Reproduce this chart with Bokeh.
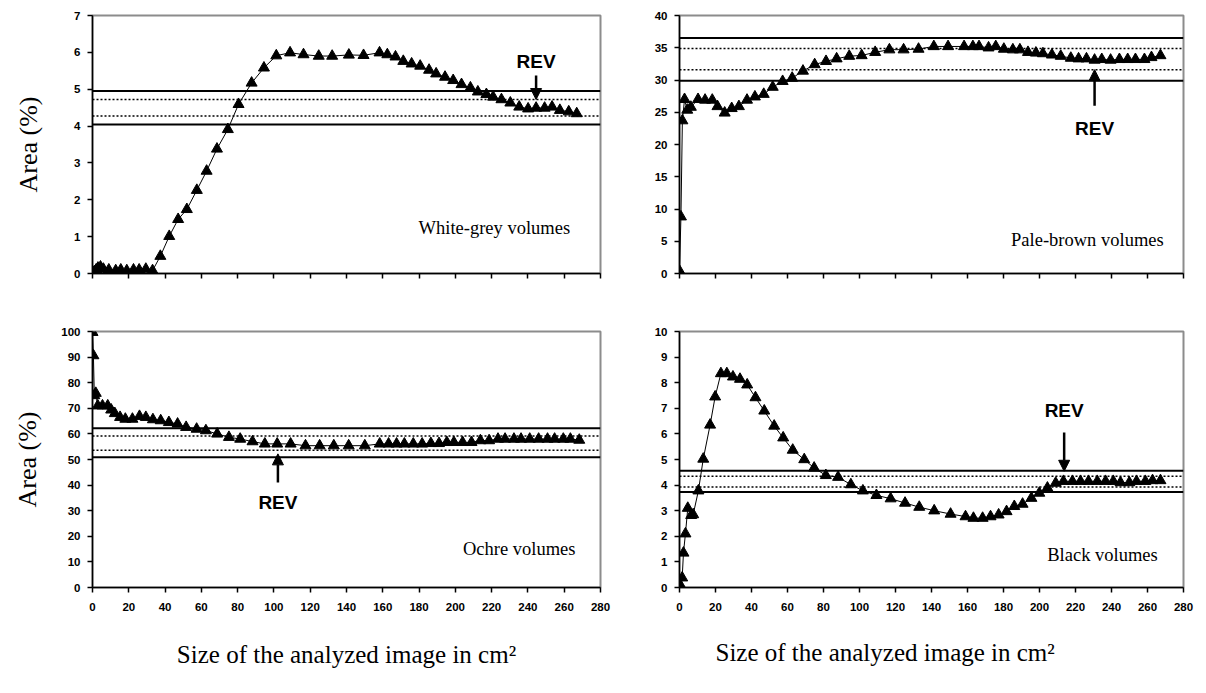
from bokeh.plotting import figure
from bokeh.layouts import column, row
from bokeh.models import Span, Arrow, NormalHead, Label, FixedTicker, Range1d, Title
from bokeh.embed import file_html
from bokeh.resources import INLINE

# ---------------- data ----------------
x_ticks = list(range(0, 281, 20))

# White-grey volumes
tl_x = [0, 0.5, 1, 2, 3, 4.4, 6, 9, 12.8, 15.6, 18.9, 22.6, 25.7, 29.4, 33.1, 37.4, 42.3, 47.2, 52.0, 57.5,
        62.9, 68.6, 74.6, 80.5, 87.7, 94.5, 101.3, 108.9, 116.3, 124.7, 132.1, 141.3, 149.4, 158.2, 162.5,
        167.0, 171.3, 175.9, 180.6, 185.5, 189.4, 194.3, 198.8, 203.4, 208.3, 212.4, 217.1, 220.8, 225.4,
        230.3, 235.2, 240.1, 244.5, 249.2, 253.3, 257.6, 262.5, 266.9]
tl_y = [0, 0.02, 0.05, 0.1, 0.15, 0.18, 0.12, 0.1, 0.08, 0.1, 0.08, 0.1, 0.1, 0.12, 0.08, 0.47, 1.01, 1.47, 1.74, 2.26,
        2.78, 3.38, 3.91, 4.59, 5.17, 5.58, 5.91, 5.99, 5.94, 5.90, 5.90, 5.93, 5.92, 5.99, 5.94,
        5.88, 5.76, 5.69, 5.63, 5.52, 5.42, 5.33, 5.24, 5.13, 5.04, 4.93, 4.86, 4.79, 4.72,
        4.63, 4.52, 4.47, 4.49, 4.49, 4.52, 4.43, 4.39, 4.34]
tl_bands = [4.04, 4.27, 4.72, 4.95]

# Pale-brown volumes
tr_x = [0, 0.8, 1.6, 2.8, 4.3, 6.3, 10.3, 14.2, 18.2, 21.1, 25.1, 29.0, 33.0, 37.5, 41.9, 46.8, 51.8, 57.3, 62.6,
        68.6, 75.1, 81.4, 87.3, 94.3, 101.2, 108.7, 116.6, 124.5, 132.8, 141.3, 149.2, 158.1, 163.0, 166.4,
        171.7, 175.7, 180.2, 185.2, 189.1, 193.6, 198.0, 201.9, 206.9, 211.8, 217.4, 221.7, 226.1, 230.6,
        234.6, 239.5, 244.4, 249.0, 253.3, 258.3, 262.2, 267.2]
tr_y = [0.4, 8.8, 23.7, 27.0, 25.35, 25.8, 27.0, 26.9, 26.9, 25.9, 24.9, 25.6, 25.9, 26.9, 27.4, 27.8, 28.9, 29.8, 30.3,
        31.4, 32.4, 32.9, 33.3, 33.7, 33.8, 34.3, 34.7, 34.7, 34.8, 35.2, 35.2, 35.2, 35.2, 35.2,
        35.0, 35.2, 34.8, 34.7, 34.7, 34.3, 34.2, 34.1, 33.9, 33.7, 33.4, 33.3, 33.3, 33.1,
        33.2, 33.1, 33.2, 33.2, 33.2, 33.2, 33.5, 33.8]
tr_bands = [29.9, 31.6, 34.9, 36.5]

# Ochre volumes
bl_x = [0, 0.5, 1.0, 1.8, 2.9, 5.5, 8.4, 10.3, 12.3, 15.2, 18.1, 22.0, 25.9, 29.4, 33.3, 37.6, 42.1, 46.9, 51.6,
        57.4, 62.5, 68.7, 75.2, 81.4, 88.2, 95.0, 101.8, 109.2, 117.4, 125.2, 133.0, 141.2, 150.1, 158.3,
        163.2, 167.6, 171.9, 176.8, 181.7, 186.5, 191.0, 195.3, 199.2, 204.0, 208.9, 213.8, 218.6, 223.5,
        227.4, 232.3, 236.2, 241.0, 245.9, 250.8, 254.7, 259.5, 263.4, 268.3]
bl_y = [99.7, 90.6, 75.0, 75.9, 71.0, 71.0, 71.0, 69.4, 68.0, 66.5, 65.8, 65.8, 66.9, 66.5, 65.6, 65.2, 64.5, 63.9, 62.6,
        61.9, 61.3, 60.0, 58.7, 58.0, 57.0, 56.1, 56.1, 56.1, 55.4, 55.4, 55.4, 55.4, 55.4, 56.1,
        56.1, 56.1, 56.1, 56.1, 56.1, 56.3, 56.3, 56.7, 56.7, 56.7, 56.7, 57.4, 57.4, 58.0,
        58.0, 58.0, 58.0, 58.0, 58.0, 58.0, 58.0, 58.0, 58.0, 57.6]
bl_bands = [50.9, 53.6, 59.2, 62.2]

# Black volumes
br_x = [0, 0.8, 1.5, 2.2, 3.3, 4.6, 6.5, 7.6, 10.5, 13.2, 17.0, 19.8, 23.0, 26.3, 29.7, 33.6, 37.6, 42.2, 47.1,
        52.6, 57.6, 62.9, 69.3, 74.8, 81.3, 88.1, 95.2, 101.9, 109.4, 117.3, 125.3, 133.2, 141.5, 150.6,
        158.9, 163.3, 168.4, 172.8, 177.3, 181.7, 186.0, 190.6, 195.5, 199.9, 204.4, 209.0, 213.3, 218.3,
        222.8, 227.2, 232.1, 236.7, 241.0, 245.0, 249.9, 253.9, 258.8, 262.8, 267.2]
br_y = [0, 0.05, 0.38, 1.35, 2.1, 3.1, 2.82, 2.85, 3.78, 5.02, 6.35, 7.45, 8.36, 8.36, 8.23, 8.14, 7.92, 7.42, 6.9,
        6.31, 5.85, 5.37, 5.0, 4.67, 4.38, 4.31, 4.02, 3.78, 3.6, 3.47, 3.3, 3.14, 3.0, 2.87,
        2.77, 2.71, 2.71, 2.77, 2.84, 2.97, 3.17, 3.26, 3.49, 3.69, 3.89, 4.08, 4.15, 4.15,
        4.15, 4.15, 4.15, 4.15, 4.15, 4.1, 4.1, 4.15, 4.15, 4.18, 4.18]
br_bands = [3.73, 3.93, 4.35, 4.56]

# annotations: (text x, text y, arrow start y, arrow end y)
tl_rev = (244.5, 5.76, 5.37, 4.72)
tr_rev = (230.6, 22.5, 26.0, 31.6)
bl_rev = (102.2, 33.2, 41.0, 52.2)
br_rev = (213.7, 6.9, 6.05, 4.54)

tl_name = ("White-grey volumes", 221.5, 1.24)
tr_name = ("Pale-brown volumes", 226.6, 5.2)
bl_name = ("Ochre volumes", 235.2, 15.0)
br_name = ("Black volumes", 235.0, 1.27)

ylabel = "Area (%)"
xlabel = "Size of the analyzed image in cm\u00b2"

SANS = "Liberation Sans"
SERIF = "Liberation Serif"


def panel(xs, ys, ymax, ystep, bands, rev, name, left, top):
    kw = dict(
        frame_width=508 if left else 504,
        frame_height=258 if top else 256,
        min_border_left=92 if left else 39,
        min_border_right=40 if left else 12,
        min_border_top=15 if top else 31,
        min_border_bottom=27 if top else 96,
    )
    p = figure(x_range=Range1d(0, 280), y_range=Range1d(0, ymax),
               output_backend="svg", toolbar_location=None, **kw)
    p.grid.visible = False
    p.outline_line_color = "#8c8c8c"
    p.outline_line_width = 2
    p.background_fill_color = "white"
    p.border_fill_color = "white"

    for ax in (p.xaxis[0], p.yaxis[0]):
        ax.axis_line_color = "black"
        ax.axis_line_width = 1.5
        ax.major_tick_line_color = "black"
        ax.major_tick_line_width = 1.5
        ax.major_tick_in = 0
        ax.major_tick_out = 5
        ax.minor_tick_line_color = None
        ax.major_label_text_font = SANS
        ax.major_label_text_font_style = "bold"
        ax.major_label_text_font_size = "11.5px"
        ax.major_label_text_color = "black"
        ax.axis_label_text_color = "black"
        ax.axis_label_text_font = SERIF
        ax.axis_label_text_font_style = "normal"

    p.xaxis[0].ticker = FixedTicker(ticks=x_ticks)
    p.yaxis[0].ticker = FixedTicker(ticks=list(range(0, ymax + 1, ystep)))
    p.yaxis[0].major_label_standoff = 7
    p.xaxis[0].major_label_standoff = 10
    if top:
        p.xaxis[0].major_label_overrides = {t: "" for t in x_ticks}

    if left:
        ya = p.yaxis[0]
        ya.axis_label = ylabel
        ya.axis_label_text_font_size = "26px"
        ya.axis_label_standoff = 28 if top else 16

    for i, b in enumerate(bands):
        solid = i in (0, 3)
        p.add_layout(Span(location=b, dimension="width", line_color="black",
                          line_width=2 if solid else 1.5,
                          line_dash="solid" if solid else "2 2"))

    p.line(xs, ys, line_color="black", line_width=1)
    p.scatter(xs, ys, marker="triangle", size=11, fill_color="black", line_color="black")

    tx, ty, ay0, ay1 = rev
    p.add_layout(Arrow(end=NormalHead(size=11, fill_color="black", line_color="black"),
                       x_start=tx, y_start=ay0, x_end=tx, y_end=ay1,
                       line_color="black", line_width=2.5))
    p.add_layout(Label(x=tx, y=ty, text="REV", text_font=SANS, text_font_style="bold",
                       text_font_size="19px", text_align="center", text_baseline="middle",
                       text_color="black"))
    nt, nx, ny = name
    p.add_layout(Label(x=nx, y=ny, text=nt, text_font=SERIF, text_font_size="18.5px",
                       text_align="center", text_baseline="middle", text_color="black"))
    return p


p1 = panel(tl_x, tl_y, 7, 1, tl_bands, tl_rev, tl_name, True, True)
p2 = panel(tr_x, tr_y, 40, 5, tr_bands, tr_rev, tr_name, False, True)
p3 = panel(bl_x, bl_y, 100, 10, bl_bands, bl_rev, bl_name, True, False)
p4 = panel(br_x, br_y, 10, 1, br_bands, br_rev, br_name, False, False)

xa = p3.xaxis[0]
xa.axis_label = xlabel
xa.axis_label_text_font_size = "25px"
xa.axis_label_standoff = 27

p4.add_layout(Title(text=xlabel, align="left", offset=36, standoff=47,
                    text_font=SERIF, text_font_size="25px", text_font_style="normal",
                    text_color="black"), "below")

layout = column(row(p1, p2), row(p3, p4))
open("out.html", "w").write(file_html(layout, INLINE))
